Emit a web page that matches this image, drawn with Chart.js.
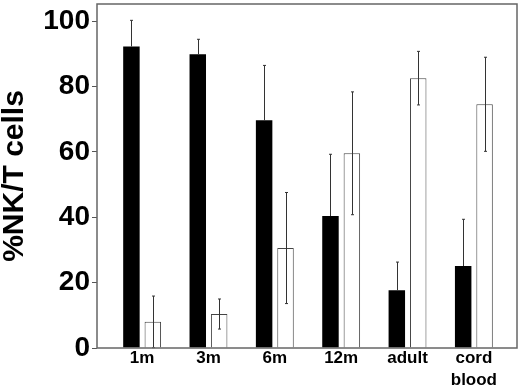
<!DOCTYPE html>
<html>
<head>
<meta charset="utf-8">
<script src="https://cdn.jsdelivr.net/npm/chart.js@4"></script>
<style>
  html, body { margin: 0; padding: 0; background: #fff; }
  #wrap { width: 520px; height: 390px; }
</style>
</head>
<body>
<div id="wrap"><canvas id="c-nkt"></canvas></div>
<script>
// data
const categories = ['1m', '3m', '6m', '12m', 'adult', ['cord', 'blood']];
const blackValues = [92.3, 89.9, 69.7, 40.4, 17.7, 25.1];
const blackErrors = [8.0, 4.6, 16.8, 18.9, 8.6, 14.3];
const whiteValues = [8.0, 10.4, 30.6, 59.6, 82.6, 74.6];
const whiteErrors = [7.9, 4.6, 17.0, 18.8, 8.2, 14.4];
const yTicks = [0, 20, 40, 60, 80, 100];

const errors = [blackErrors, whiteErrors];
const FONT = "'Liberation Sans', Arial, sans-serif";

// frame round the plot area
const framePlugin = {
    id: 'frame',
    afterDraw(chart) {
        const { ctx, chartArea: a } = chart;
        ctx.save();
        ctx.strokeStyle = '#666';
        ctx.lineWidth = 1.5;
        ctx.strokeRect(a.left, a.top, a.right - a.left, a.bottom - a.top);
        ctx.restore();
    }
};

// error bars, from the y scale (lower half hidden inside the black bars)
const errorBarPlugin = {
    id: 'errorBars',
    afterDatasetsDraw(chart) {
        const { ctx } = chart;
        const yScale = chart.scales.y;
        ctx.save();
        ctx.strokeStyle = '#333';
        ctx.lineWidth = 1;
        chart.data.datasets.forEach((ds, di) => {
            const meta = chart.getDatasetMeta(di);
            meta.data.forEach((bar, i) => {
                const v = ds.data[i].y, e = errors[di][i];
                const x = Math.round(bar.x) + 0.5;
                const yHi = yScale.getPixelForValue(v + e);
                const yLo = di === 0 ? bar.y : yScale.getPixelForValue(Math.max(0, v - e));
                ctx.beginPath();
                ctx.moveTo(x, yHi); ctx.lineTo(x, yLo);
                ctx.moveTo(x - 1.5, yHi); ctx.lineTo(x + 1.5, yHi);
                if (di === 1) { ctx.moveTo(x - 1.5, yLo); ctx.lineTo(x + 1.5, yLo); }
                ctx.stroke();
            });
        });
        ctx.restore();
    }
};

const chart = new Chart(document.getElementById('c-nkt'), {
    type: 'bar',
    data: {
        datasets: [
            { data: blackValues.map((v, i) => ({ x: i, y: v })), backgroundColor: '#000', borderWidth: 0 },
            { data: whiteValues.map((v, i) => ({ x: i, y: v })), backgroundColor: '#fff', borderColor: '#444', borderWidth: 1 }
        ]
    },
    options: {
        responsive: true, maintainAspectRatio: false, animation: false,
        datasets: { bar: { categoryPercentage: 0.645, barPercentage: 0.77 } },
        layout: { padding: { top: 4, right: 3, left: 0, bottom: 0 } },
        scales: {
            x: {
                type: 'linear', min: -0.68, max: 5.65, offset: false,
                afterBuildTicks: s => { s.ticks = categories.map((c, i) => ({ value: i })); },
                afterFit: s => { s.height = 42; s.paddingLeft = 0; s.paddingRight = 0; },
                grid: { display: false, drawTicks: false, tickLength: 0 },
                border: { display: false },
                ticks: {
                    autoSkip: false, maxRotation: 0, padding: 0, color: '#000',
                    font: { family: FONT, size: 17, weight: 'bold', lineHeight: 1.25 },
                    callback: v => categories[v]
                }
            },
            y: {
                min: 0, max: 105.3,
                afterBuildTicks: s => { s.ticks = yTicks.map(v => ({ value: v })); },
                afterFit: s => { s.width = 97; s.paddingTop = 0; s.paddingBottom = 0; },
                grid: { drawOnChartArea: false, drawTicks: true, tickLength: 5, color: '#555' },
                border: { display: false },
                ticks: { padding: 2, color: '#000', font: { family: FONT, size: 28, weight: 'bold' } },
                title: {
                    display: true, text: '%NK/T cells', color: '#000',
                    padding: { top: 0, bottom: 0 },
                    font: { family: FONT, size: 30, weight: 'bold', lineHeight: 1 }
                }
            }
        },
        plugins: { legend: { display: false }, tooltip: { enabled: false } }
    },
    plugins: [errorBarPlugin, framePlugin]
});
</script>
</body>
</html>
